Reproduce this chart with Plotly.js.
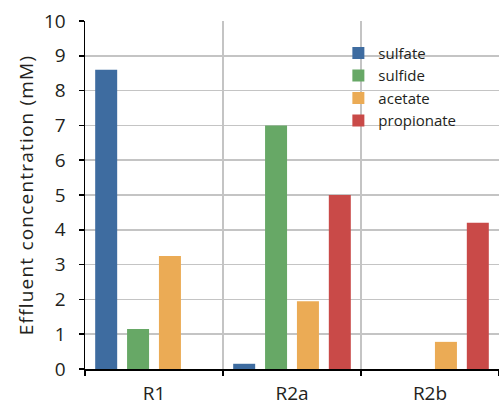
<!DOCTYPE html>
<html>
<head>
<meta charset="utf-8">
<script src="https://cdn.plot.ly/plotly-3.0.1.min.js"></script>
<style>html,body{margin:0;padding:0;background:#fff}#chart{width:499px;height:406px}
.ytitle{letter-spacing:1.2px}</style>
</head>
<body>
<div id="chart"></div>
<script>
var categories = ["R1", "R2a", "R2b"];
var seriesNames = ["sulfate", "sulfide", "acetate", "propionate"];
var sulfate = [8.6, 0.15, 0];
var sulfide = [1.15, 7.0, 0];
var acetate = [3.25, 1.95, 0.78];
var propionate = [0, 5.0, 4.2];
var colors = ["#3e6ca0", "#67a866", "#ebab55", "#c94a48"];
var yTicks = [0,1,2,3,4,5,6,7,8,9,10];

var values = [sulfate, sulfide, acetate, propionate];
var traces = values.map(function (v, i) {
  return {
    type: "bar",
    name: seriesNames[i],
    x: categories,
    y: v,
    marker: {color: colors[i], line: {width: 0}},
    hoverinfo: "none"
  };
});

var font = "Open Sans, Noto Sans, sans-serif";
var layout = {
  width: 499, height: 406,
  margin: {l: 85, r: 0, t: 21, b: 37},
  paper_bgcolor: "#fff", plot_bgcolor: "#fff",
  barmode: "group",
  bargap: 0.076,
  bargroupgap: 0.31,
  font: {family: font, color: "#231f20"},
  showlegend: true,
  legend: {
    x: 0.612, y: 0.955, xanchor: "left", yanchor: "top",
    bgcolor: "rgba(0,0,0,0)", borderwidth: 0,
    font: {size: 15, family: font, color: "#231f20"},
    itemclick: false, itemdoubleclick: false
  },
  shapes: [{
    type: "rect", xref: "paper", yref: "paper", layer: "between",
    x0: 0.581, x1: 0.966, y0: 0.678, y1: 0.934,
    fillcolor: "#fff", line: {width: 0}
  }],
  xaxis: {
    type: "category",
    range: [-0.5, 2.5],
    tickson: "boundaries",
    ticks: "outside", ticklen: 5, tickwidth: 1.5, tickcolor: "#000",
    showline: true, linecolor: "#000", linewidth: 1.5,
    showgrid: true, gridcolor: "#c4c4c4", gridwidth: 1.5,
    tickfont: {size: 19, family: font, color: "#231f20"},
    ticklabelstandoff: 7,
    zeroline: false
  },
  yaxis: {
    range: [0, 10],
    tickvals: yTicks,
    ticktext: yTicks.map(String),
    ticks: "outside", ticklen: 5, tickwidth: 1.5, tickcolor: "#000",
    showline: true, linecolor: "#000", linewidth: 1.5,
    showgrid: true, gridcolor: "#c4c4c4", gridwidth: 1.5,
    zeroline: false,
    tickfont: {size: 19, family: font, color: "#231f20"},
    ticklabelstandoff: 9,
    title: {text: "Effluent concentration (mM)", font: {size: 19, family: font, color: "#231f20"}, standoff: 5}
  }
};

Plotly.newPlot("chart", traces, layout, {displayModeBar: false, staticPlot: true});
</script>
</body>
</html>
